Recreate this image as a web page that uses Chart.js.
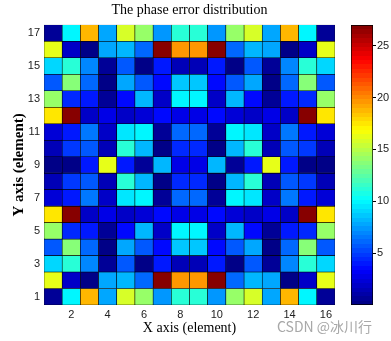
<!DOCTYPE html>
<html>
<head>
<meta charset="utf-8">
<script src="https://cdn.jsdelivr.net/npm/chart.js@4"></script>
<style>
  html, body { margin: 0; padding: 0; background: #fff; }
  #wrap { position: relative; width: 391px; height: 341px; }
  #main { position: absolute; left: 0; top: 0; width: 391px; height: 341px; }
  #bar { position: absolute; left: 345px; top: 0; width: 46px; height: 341px; }
  #mark { position: absolute; left: 277px; top: 316px; font: 14px "Noto Sans CJK SC", "Noto Sans", sans-serif; color: #a8a8a8; }
</style>
</head>
<body>
<div id="wrap">
  <div id="main"><canvas id="heatmap"></canvas></div>
  <div id="bar"><canvas id="colorbar"></canvas></div>
  <div id="mark">CSDN @冰川行</div>
</div>
<script>
// columns (x) and rows (y)
const xLabels = ["1","2","3","4","5","6","7","8","9","10","11","12","13","14","15","16"];
const yRows = [17,16,15,14,13,12,11,10,9,8,7,6,5,4,3,2,1];
const yTicks = [1,3,5,7,9,11,13,15,17];
const cbTicks = [5,10,15,20,25];
const zMin = 0, zMax = 27;

// phase error, one array per row, top row (y=17) first
const row17 = [0.8, 10.1, 18.6, 7.6, 16.0, 14.0, 7.2, 11.0, 11.0, 7.2, 14.0, 16.0, 7.6, 18.6, 10.1, 0.8];
const row16 = [16.3, 1.9, 0.3, 8.0, 8.2, 6.3, 27.0, 19.8, 19.8, 27.0, 6.3, 8.2, 8.0, 0.3, 1.9, 16.3];
const row15 = [9.1, 11.0, 7.0, 0.8, 5.5, 0.4, 3.8, 1.3, 1.3, 3.8, 0.4, 5.5, 0.8, 7.0, 11.0, 9.1];
const row14 = [5.9, 13.9, 6.3, 0.4, 7.6, 5.9, 3.4, 8.6, 8.6, 3.4, 5.9, 7.6, 0.4, 6.3, 13.9, 5.9];
const row13 = [14.3, 4.6, 4.0, 0.8, 3.4, 8.4, 2.1, 9.8, 9.8, 2.1, 8.4, 3.4, 0.8, 4.0, 4.6, 14.3];
const row12 = [17.5, 27.0, 2.1, 2.7, 1.7, 2.4, 3.4, 2.7, 2.7, 3.4, 2.4, 1.7, 2.7, 2.1, 27.0, 17.5];
const row11 = [2.4, 4.2, 6.7, 1.7, 9.4, 10.1, 0.8, 6.3, 6.3, 0.8, 10.1, 9.4, 1.7, 6.7, 4.2, 2.4];
const row10 = [1.3, 4.8, 5.9, 1.3, 11.0, 8.4, 0.4, 4.3, 4.3, 0.4, 8.4, 11.0, 1.3, 5.9, 4.8, 1.3];
const row9  = [0.4, 0.1, 3.8, 16.3, 3.8, 0.8, 8.4, 2.7, 2.7, 8.4, 0.8, 3.8, 16.3, 3.8, 0.1, 0.4];
const row8  = [1.3, 4.8, 5.9, 1.3, 11.0, 8.4, 0.4, 4.3, 4.3, 0.4, 8.4, 11.0, 1.3, 5.9, 4.8, 1.3];
const row7  = [2.4, 4.2, 6.7, 1.7, 9.4, 10.1, 0.8, 6.3, 6.3, 0.8, 10.1, 9.4, 1.7, 6.7, 4.2, 2.4];
const row6  = [17.5, 27.0, 2.1, 2.7, 1.7, 2.4, 3.4, 2.7, 2.7, 3.4, 2.4, 1.7, 2.7, 2.1, 27.0, 17.5];
const row5  = [14.3, 4.6, 4.0, 0.8, 3.4, 8.4, 2.1, 9.8, 9.8, 2.1, 8.4, 3.4, 0.8, 4.0, 4.6, 14.3];
const row4  = [5.9, 13.9, 6.3, 0.4, 7.6, 5.9, 3.4, 8.6, 8.6, 3.4, 5.9, 7.6, 0.4, 6.3, 13.9, 5.9];
const row3  = [9.1, 11.0, 7.0, 0.8, 5.5, 0.4, 3.8, 1.3, 1.3, 3.8, 0.4, 5.5, 0.8, 7.0, 11.0, 9.1];
const row2  = [16.3, 1.9, 0.3, 8.0, 8.2, 6.3, 27.0, 19.8, 19.8, 27.0, 6.3, 8.2, 8.0, 0.3, 1.9, 16.3];
const row1  = [0.8, 10.1, 18.6, 7.6, 16.0, 14.0, 7.2, 11.0, 11.0, 7.2, 14.0, 16.0, 7.6, 18.6, 10.1, 0.8];

const rows = [row17,row16,row15,row14,row13,row12,row11,row10,row9,row8,row7,row6,row5,row4,row3,row2,row1];

// matlab jet, 64 levels
function jet(t) {
  const c = v => Math.round(255 * Math.max(0, Math.min(1, v)));
  return "rgb(" + c(1.5 - Math.abs(4*t - 3)) + "," + c(1.5 - Math.abs(4*t - 2)) + "," + c(1.5 - Math.abs(4*t - 1)) + ")";
}
function colorOf(v) {
  let i = Math.floor((v - zMin) / (zMax - zMin) * 64);
  i = Math.max(0, Math.min(63, i));
  return jet((i + 0.5) / 64);
}

const tickFont = { family: "'Liberation Sans', Arial, sans-serif", size: 11 };

new Chart(document.getElementById("heatmap"), {
  type: "bar",
  data: {
    labels: xLabels,
    datasets: rows.map((r, k) => ({
      data: r.map(() => [yRows[k] - 0.5, yRows[k] + 0.5]),
      backgroundColor: r.map(colorOf),
      borderColor: "#000",
      borderWidth: 0.6,
      borderSkipped: false,
      grouped: false,
      barPercentage: 1,
      categoryPercentage: 1,
    })),
  },
  options: {
    responsive: true,
    maintainAspectRatio: false,
    animation: false,
    layout: { padding: { left: 0, right: 56, top: 0, bottom: 0 } },
    plugins: {
      legend: { display: false },
      tooltip: { enabled: false },
      title: {
        display: true,
        fullSize: false,
        text: "The phase error distribution",
        color: "#000",
        font: { family: "'Liberation Serif', 'Times New Roman', serif", size: 14, weight: "normal" },
        padding: { top: 2, bottom: 6 },
      },
    },
    scales: {
      x: {
        grid: { display: false, drawTicks: false },
        border: { display: false },
        ticks: {
          color: "#222",
          font: tickFont,
          padding: 3,
          maxRotation: 0,
          autoSkip: false,
          callback: (v, i) => (i % 2 === 1 ? xLabels[i] : ""),
        },
        title: {
          display: true,
          text: "X axis (element)",
          color: "#000",
          font: { family: "'Liberation Serif', 'Times New Roman', serif", size: 14 },
          padding: { top: 0, bottom: 4 },
        },
        afterFit: (s) => { s.height = 36; },
      },
      y: {
        min: 0.5,
        max: 17.5,
        grid: { display: false, drawTicks: false },
        border: { display: false },
        afterBuildTicks: (s) => { s.ticks = yTicks.map((v) => ({ value: v })); },
        ticks: { color: "#222", font: tickFont, padding: 4, callback: (v) => String(v) },
        title: {
          display: true,
          text: "Y axis (element)",
          color: "#000",
          font: { family: "'Liberation Serif', 'Times New Roman', serif", size: 15, weight: "bold" },
          padding: { top: 10, bottom: 0 },
        },
        afterFit: (s) => { s.width = 44; },
      },
    },
  },
});

// colour bar
new Chart(document.getElementById("colorbar"), {
  type: "bar",
  data: {
    labels: [""],
    datasets: [{
      data: [[zMin, zMax]],
      backgroundColor: (ctx) => {
        const a = ctx.chart.chartArea;
        if (!a) return "#000";
        const g = ctx.chart.ctx.createLinearGradient(0, a.bottom, 0, a.top);
        for (let i = 0; i < 64; i++) {
          const c = jet((i + 0.5) / 64);
          g.addColorStop(i / 64, c);
          g.addColorStop((i + 1) / 64, c);
        }
        return g;
      },
      borderColor: "#000",
      borderWidth: 1,
      borderSkipped: false,
      barPercentage: 1,
      categoryPercentage: 1,
    }],
  },
  options: {
    responsive: true,
    maintainAspectRatio: false,
    animation: false,
    layout: { padding: { left: 6, right: 0, top: 25, bottom: 36 } },
    plugins: { legend: { display: false }, tooltip: { enabled: false } },
    scales: {
      x: { display: false },
      y: {
        position: "right",
        min: zMin,
        max: zMax,
        afterBuildTicks: (s) => { s.ticks = cbTicks.map((v) => ({ value: v })); },
        grid: { drawOnChartArea: false, tickLength: 3, color: "#000" },
        border: { display: false },
        ticks: { color: "#222", font: tickFont, padding: 1 },
        afterFit: (s) => { s.width = 18; },
      },
    },
  },
});
</script>
</body>
</html>
